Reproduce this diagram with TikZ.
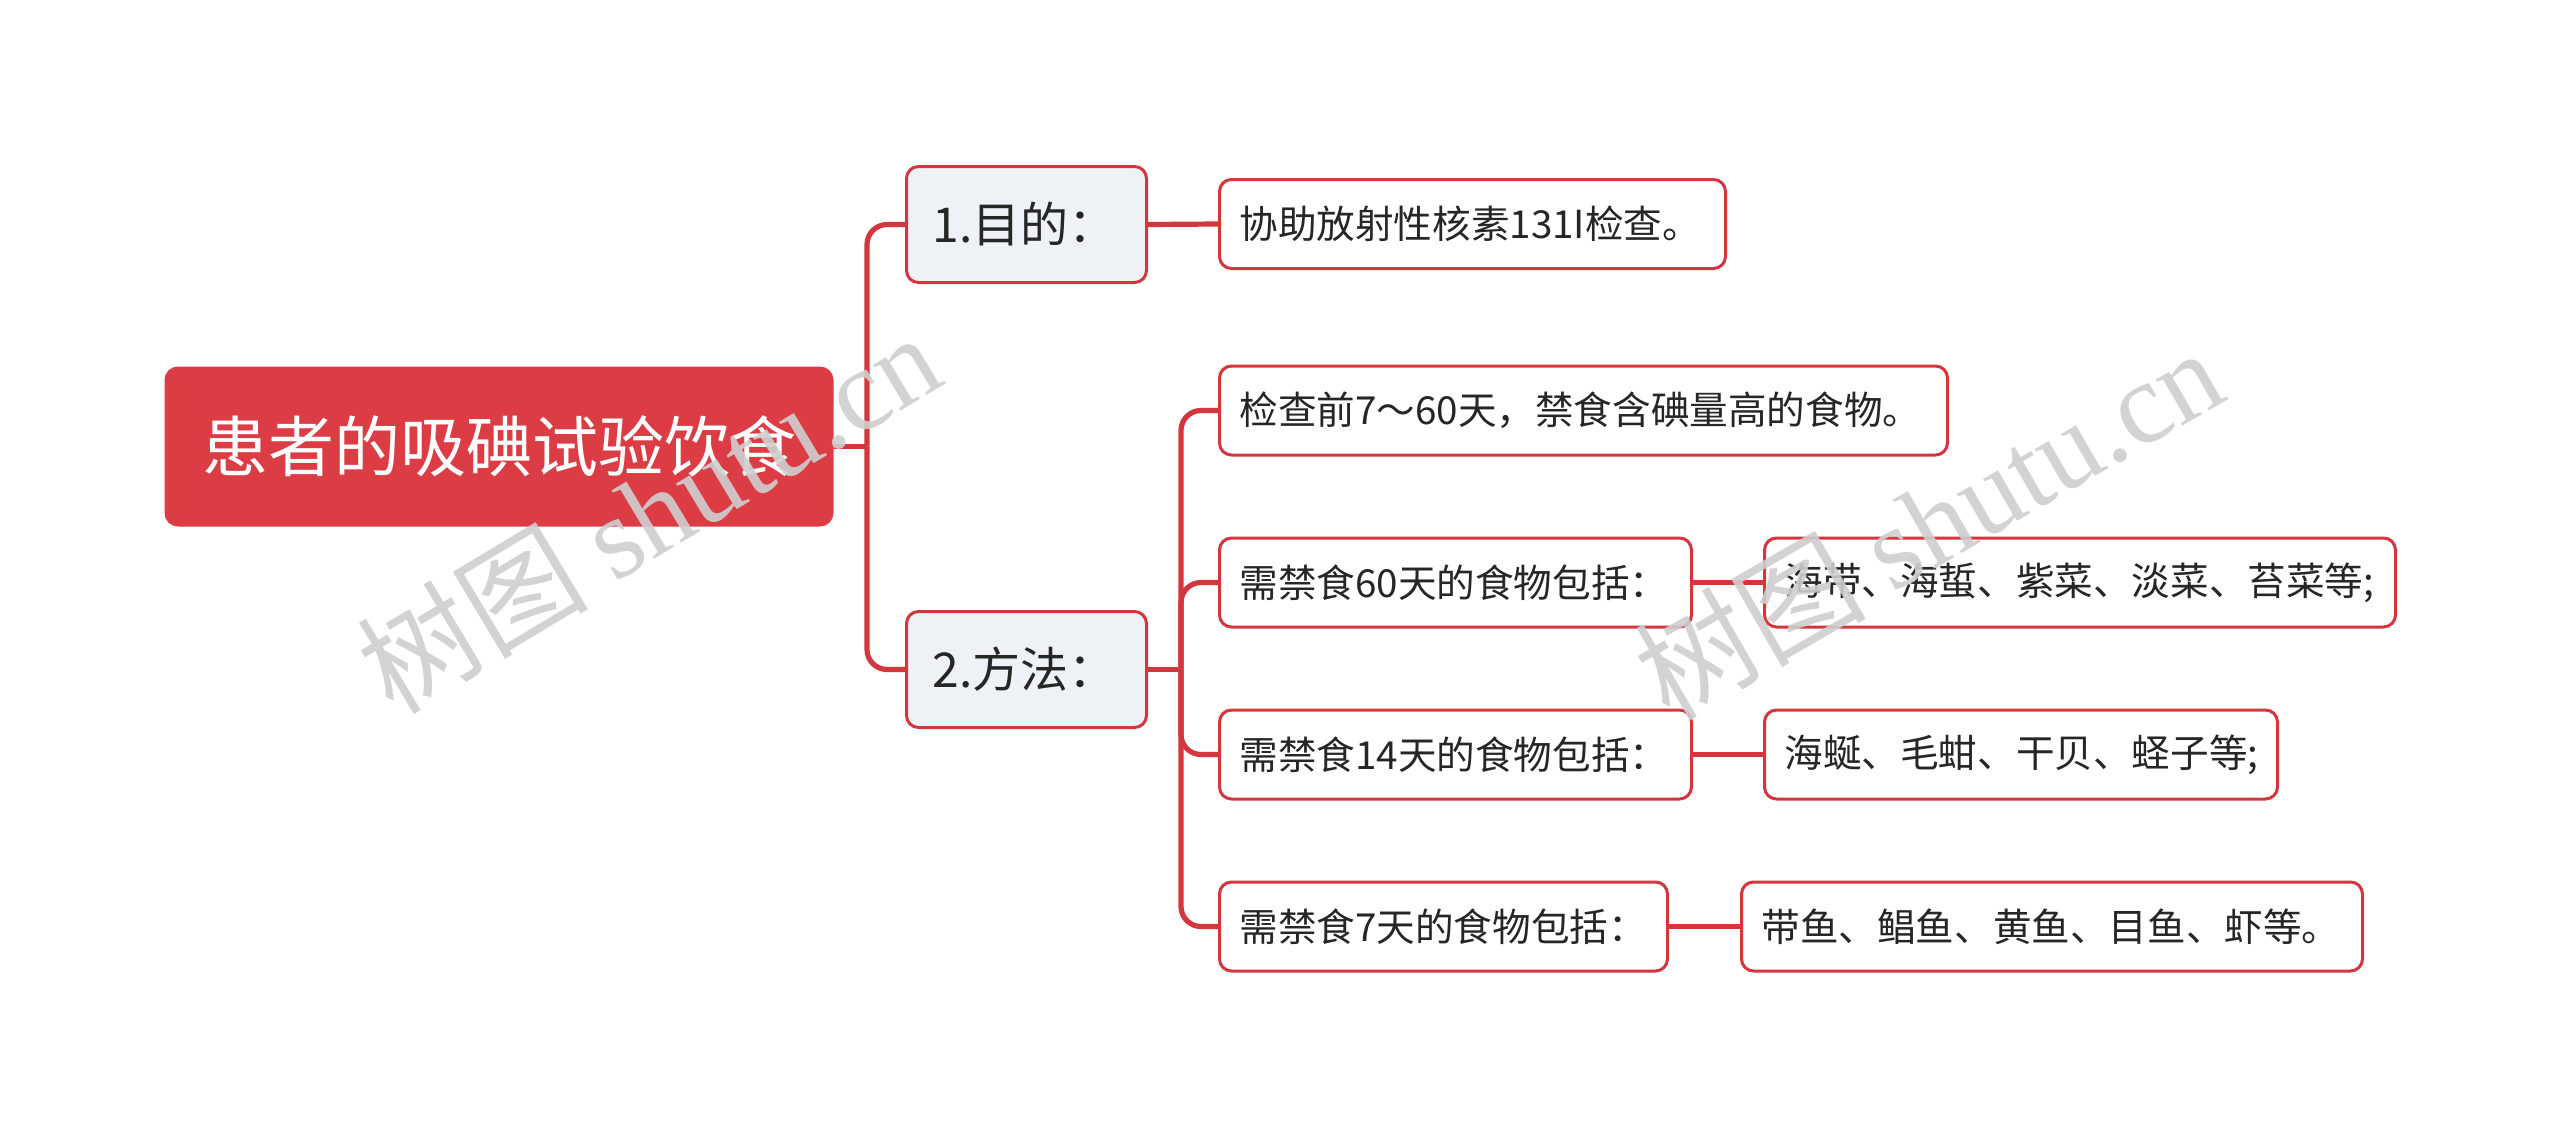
\documentclass[tikz,border=0pt]{standalone}
\usepackage{fontspec}
\setmainfont{Noto Sans CJK SC}
\newfontfamily\wmserif{Liberation Serif}
\definecolor{mmred}{HTML}{DC3D45}
\definecolor{mmline}{HTML}{D4363E}
\definecolor{mmgray}{HTML}{EEF1F5}
\definecolor{mmtext}{HTML}{262626}
\definecolor{wmgray}{HTML}{CFCFCF}
\begin{document}
\begin{tikzpicture}[x=0.25pt,y=-0.25pt,
  rootbox/.style={draw=mmred, fill=mmred, line width=0.75pt, rounded corners=3pt,
    minimum width=166.5pt, minimum height=39.25pt, inner sep=0pt, text=white,
    font=\fontsize{16.5}{20}\selectfont},
  lonebox/.style={draw=mmline, fill=mmgray, line width=0.75pt, rounded corners=3pt,
    minimum height=29pt, inner xsep=6.5pt, inner ysep=0pt, text width=47pt, align=left,
    anchor=west, text=mmtext, font=\fontsize{12}{14}\selectfont},
  leafbox/.style={draw=mmline, fill=white, line width=0.75pt, rounded corners=3pt,
    minimum height=22.25pt, inner xsep=5pt, inner ysep=0pt, align=left,
    anchor=west, text=mmtext, font=\fontsize{9.65}{11}\selectfont},
  conn/.style={draw=mmline, line width=1.3pt},
  trunk/.style={conn, rounded corners=5pt},
  wm/.style={text=wmgray, opacity=0.9, font=\fontsize{29}{32}\selectfont, inner sep=0pt}
]
\fill[white] (0,0) rectangle (2560,1137);
\useasboundingbox (0,0) rectangle (2560,1137);

% nodes
\node[rootbox] (root) at (499,446.5) {患者的吸碘试验饮食};
\node[lonebox] (p1) at (905,224.5) {1.目的：};
\node[lonebox] (p2) at (905,669.5) {2.方法：};

\node[leafbox, text width=116.5pt] (p1a) at (1218,224) {协助放射性核素131I检查。};
\node[leafbox, text width=172pt] (p2a) at (1218,410.5) {检查前7～60天，禁食含碘量高的食物。};
\node[leafbox, text width=108pt] (p2b) at (1218,582.5) {需禁食60天的食物包括：};
\node[leafbox, text width=108pt] (p2c) at (1218,754.5) {需禁食14天的食物包括：};
\node[leafbox, text width=102pt] (p2d) at (1218,926.5) {需禁食7天的食物包括：};

\node[leafbox, text width=147.75pt] (p2bx) at (1763,582.5) {海带、海蜇、紫菜、淡菜、苔菜等;};
\node[leafbox, text width=118.25pt] (p2cx) at (1763,754.5) {海蜒、毛蚶、干贝、蛏子等;};
\node[leafbox, text width=145.25pt] (p2dx) at (1740,926.5) {带鱼、鲳鱼、黄鱼、目鱼、虾等。};

% connectors
\coordinate (j1) at (867,446.5);
\coordinate (j2) at (1181,669.5);
\draw[conn] (root.east) -- (j1);
\draw[trunk] (j1) |- (p1.west);
\draw[trunk] (j1) |- (p2.west);
\draw[conn] (p1.east) -- (p1a.west);
\draw[conn] (p2.east) -- (j2);
\draw[trunk] (j2) |- (p2a.west);
\draw[trunk] (j2) |- (p2b.west);
\draw[trunk] (j2) |- (p2c.west);
\draw[trunk] (j2) |- (p2d.west);
\draw[conn] (p2b.east) -- (p2bx.west);
\draw[conn] (p2c.east) -- (p2cx.west);
\draw[conn] (p2d.east) -- (p2dx.west);

% watermarks
\node[wm, rotate=31] (wm1) at (648,512) {树图 {\wmserif shutu.cn}};
\node[wm, rotate=30] (wm2) at (1928,522) {树图 {\wmserif shutu.cn}};
\end{tikzpicture}
\end{document}
